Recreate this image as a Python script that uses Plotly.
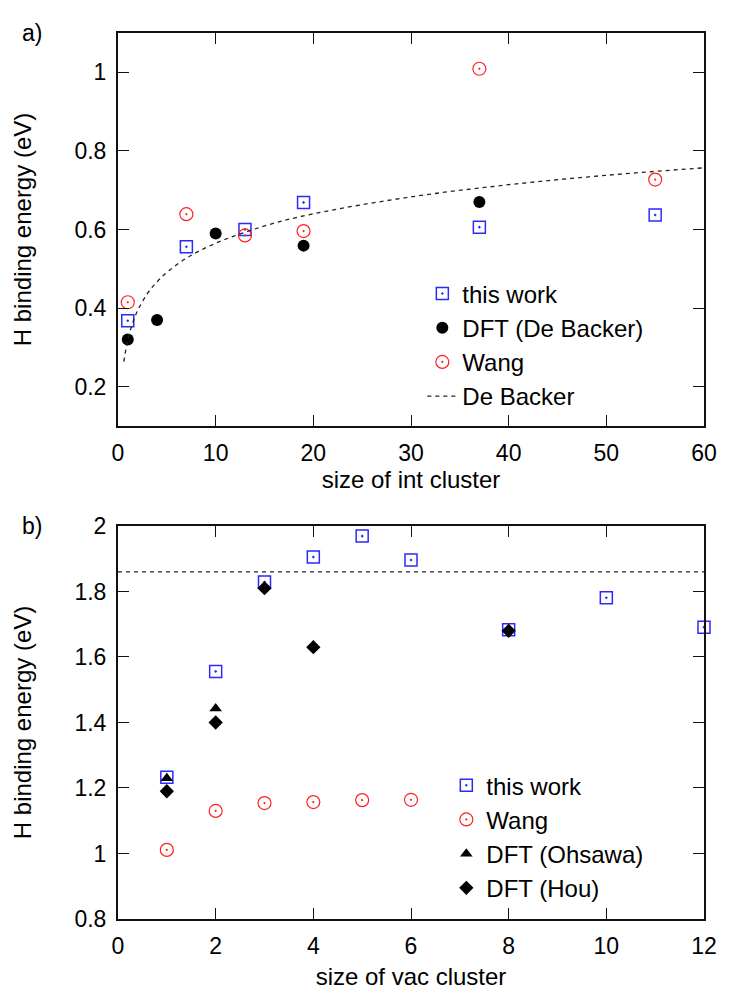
import plotly.graph_objects as go
from plotly.subplots import make_subplots

# panel a: interstitial clusters
int_size_this = [1, 7, 13, 19, 37, 55]
int_eb_this = [0.368, 0.556, 0.600, 0.669, 0.606, 0.637]
int_size_dft = [1, 4, 10, 19, 37]
int_eb_dft = [0.320, 0.370, 0.590, 0.559, 0.670]
int_size_wang = [1, 7, 13, 19, 37, 55]
int_eb_wang = [0.415, 0.639, 0.585, 0.596, 1.009, 0.727]
# De Backer fit curve
fit_size = [0.6, 1, 1.5, 2, 3, 4, 5, 7, 10, 15, 20, 30, 40, 50, 60]
fit_eb = [0.264, 0.319, 0.362, 0.393, 0.437, 0.467, 0.491, 0.527, 0.565,
          0.609, 0.640, 0.683, 0.714, 0.738, 0.757]

# panel b: vacancy clusters
vac_size_this = [1, 2, 3, 4, 5, 6, 8, 10, 12]
vac_eb_this = [1.233, 1.556, 1.829, 1.905, 1.969, 1.896, 1.683, 1.781, 1.691]
vac_size_wang = [1, 2, 3, 4, 5, 6]
vac_eb_wang = [1.011, 1.130, 1.154, 1.157, 1.163, 1.164]
vac_size_ohsawa = [1, 2]
vac_eb_ohsawa = [1.230, 1.443]
vac_size_hou = [1, 2, 3, 4, 8]
vac_eb_hou = [1.190, 1.400, 1.810, 1.630, 1.680]
vac_ref_size = [0, 12]
vac_ref_eb = [1.86, 1.86]

FONT = "Liberation Sans, Arial, sans-serif"
BLUE = "#2a2aff"
RED = "#ff2020"

fig = make_subplots(rows=2, cols=1, vertical_spacing=0.1128)

# --- a)
fig.add_trace(go.Scatter(x=int_size_this, y=int_eb_this, mode="markers", name="this work",
                         marker=dict(symbol="square-open-dot", size=12, color=BLUE, line=dict(width=1.5)),
                         legend="legend"), row=1, col=1)
fig.add_trace(go.Scatter(x=int_size_dft, y=int_eb_dft, mode="markers", name="DFT (De Backer)",
                         marker=dict(symbol="circle", size=12, color="black"),
                         legend="legend"), row=1, col=1)
fig.add_trace(go.Scatter(x=int_size_wang, y=int_eb_wang, mode="markers", name="Wang",
                         marker=dict(symbol="circle-open-dot", size=13, color=RED, line=dict(width=1.2)),
                         legend="legend"), row=1, col=1)
fig.add_trace(go.Scatter(x=fit_size, y=fit_eb, mode="lines", name="De Backer",
                         line=dict(color="#222222", width=1.3, dash="4px,4px"), line_shape="spline",
                         legend="legend"), row=1, col=1)

# --- b)
fig.add_trace(go.Scatter(x=vac_ref_size, y=vac_ref_eb, mode="lines", showlegend=False,
                         line=dict(color="#222222", width=1.3, dash="4px,4px")), row=2, col=1)
fig.add_trace(go.Scatter(x=vac_size_this, y=vac_eb_this, mode="markers", name="this work",
                         marker=dict(symbol="square-open-dot", size=12, color=BLUE, line=dict(width=1.5)),
                         legend="legend2", cliponaxis=False), row=2, col=1)
fig.add_trace(go.Scatter(x=vac_size_wang, y=vac_eb_wang, mode="markers", name="Wang",
                         marker=dict(symbol="circle-open-dot", size=13, color=RED, line=dict(width=1.2)),
                         legend="legend2"), row=2, col=1)
fig.add_trace(go.Scatter(x=vac_size_ohsawa, y=vac_eb_ohsawa, mode="markers", name="DFT (Ohsawa)",
                         marker=dict(symbol="triangle-up", size=11, color="black"),
                         legend="legend2"), row=2, col=1)
fig.add_trace(go.Scatter(x=vac_size_hou, y=vac_eb_hou, mode="markers", name="DFT (Hou)",
                         marker=dict(symbol="diamond", size=11, color="black"),
                         legend="legend2"), row=2, col=1)

axis_style = dict(showline=True, linecolor="#111111", linewidth=2, mirror="allticks",
                  ticks="inside", ticklen=11, tickwidth=1, tickcolor="#111111",
                  showgrid=False, zeroline=False, tickfont=dict(size=23, color="black"),
                  ticklabelstandoff=5)

fig.update_xaxes(axis_style)
fig.update_yaxes(axis_style)

title_font = dict(size=24, color="black")
fig.update_xaxes(range=[0, 60], dtick=10,
                 title=dict(text="size of int cluster", standoff=6, font=title_font), row=1, col=1)
fig.update_yaxes(range=[0.1, 1.1], tickvals=[0.2, 0.4, 0.6, 0.8, 1],
                 title=dict(text="H binding energy (eV)", standoff=36, font=title_font), row=1, col=1)
fig.update_xaxes(range=[0, 12], dtick=2,
                 title=dict(text="size of vac cluster", standoff=11, font=title_font), row=2, col=1)
fig.update_yaxes(range=[0.8, 2], dtick=0.2,
                 title=dict(text="H binding energy (eV)", standoff=36, font=title_font), row=2, col=1)

fig.update_layout(
    width=747,
    height=997,
    # the page body adds 8px on the left and top, so margins are shifted by that
    margin=dict(l=110, r=51, t=16, b=86),
    paper_bgcolor="white",
    plot_bgcolor="white",
    font=dict(family=FONT, size=23, color="black"),
    legend=dict(x=0.905, xanchor="right", y=0.565, yanchor="bottom",
                bgcolor="rgba(0,0,0,0)", font=dict(size=24)),
    legend2=dict(x=0.905, xanchor="right", y=0.010, yanchor="bottom",
                 bgcolor="rgba(0,0,0,0)", font=dict(size=24)),
    annotations=[
        dict(text="a)", x=0, y=1, xref="paper", yref="paper", xshift=-86,
             xanchor="center", yanchor="middle", showarrow=False, font=dict(size=23)),
        dict(text="b)", x=0, y=0.4436, xref="paper", yref="paper", xshift=-86,
             xanchor="center", yanchor="middle", showarrow=False, font=dict(size=23)),
    ],
)

fig.write_html("out.html")
